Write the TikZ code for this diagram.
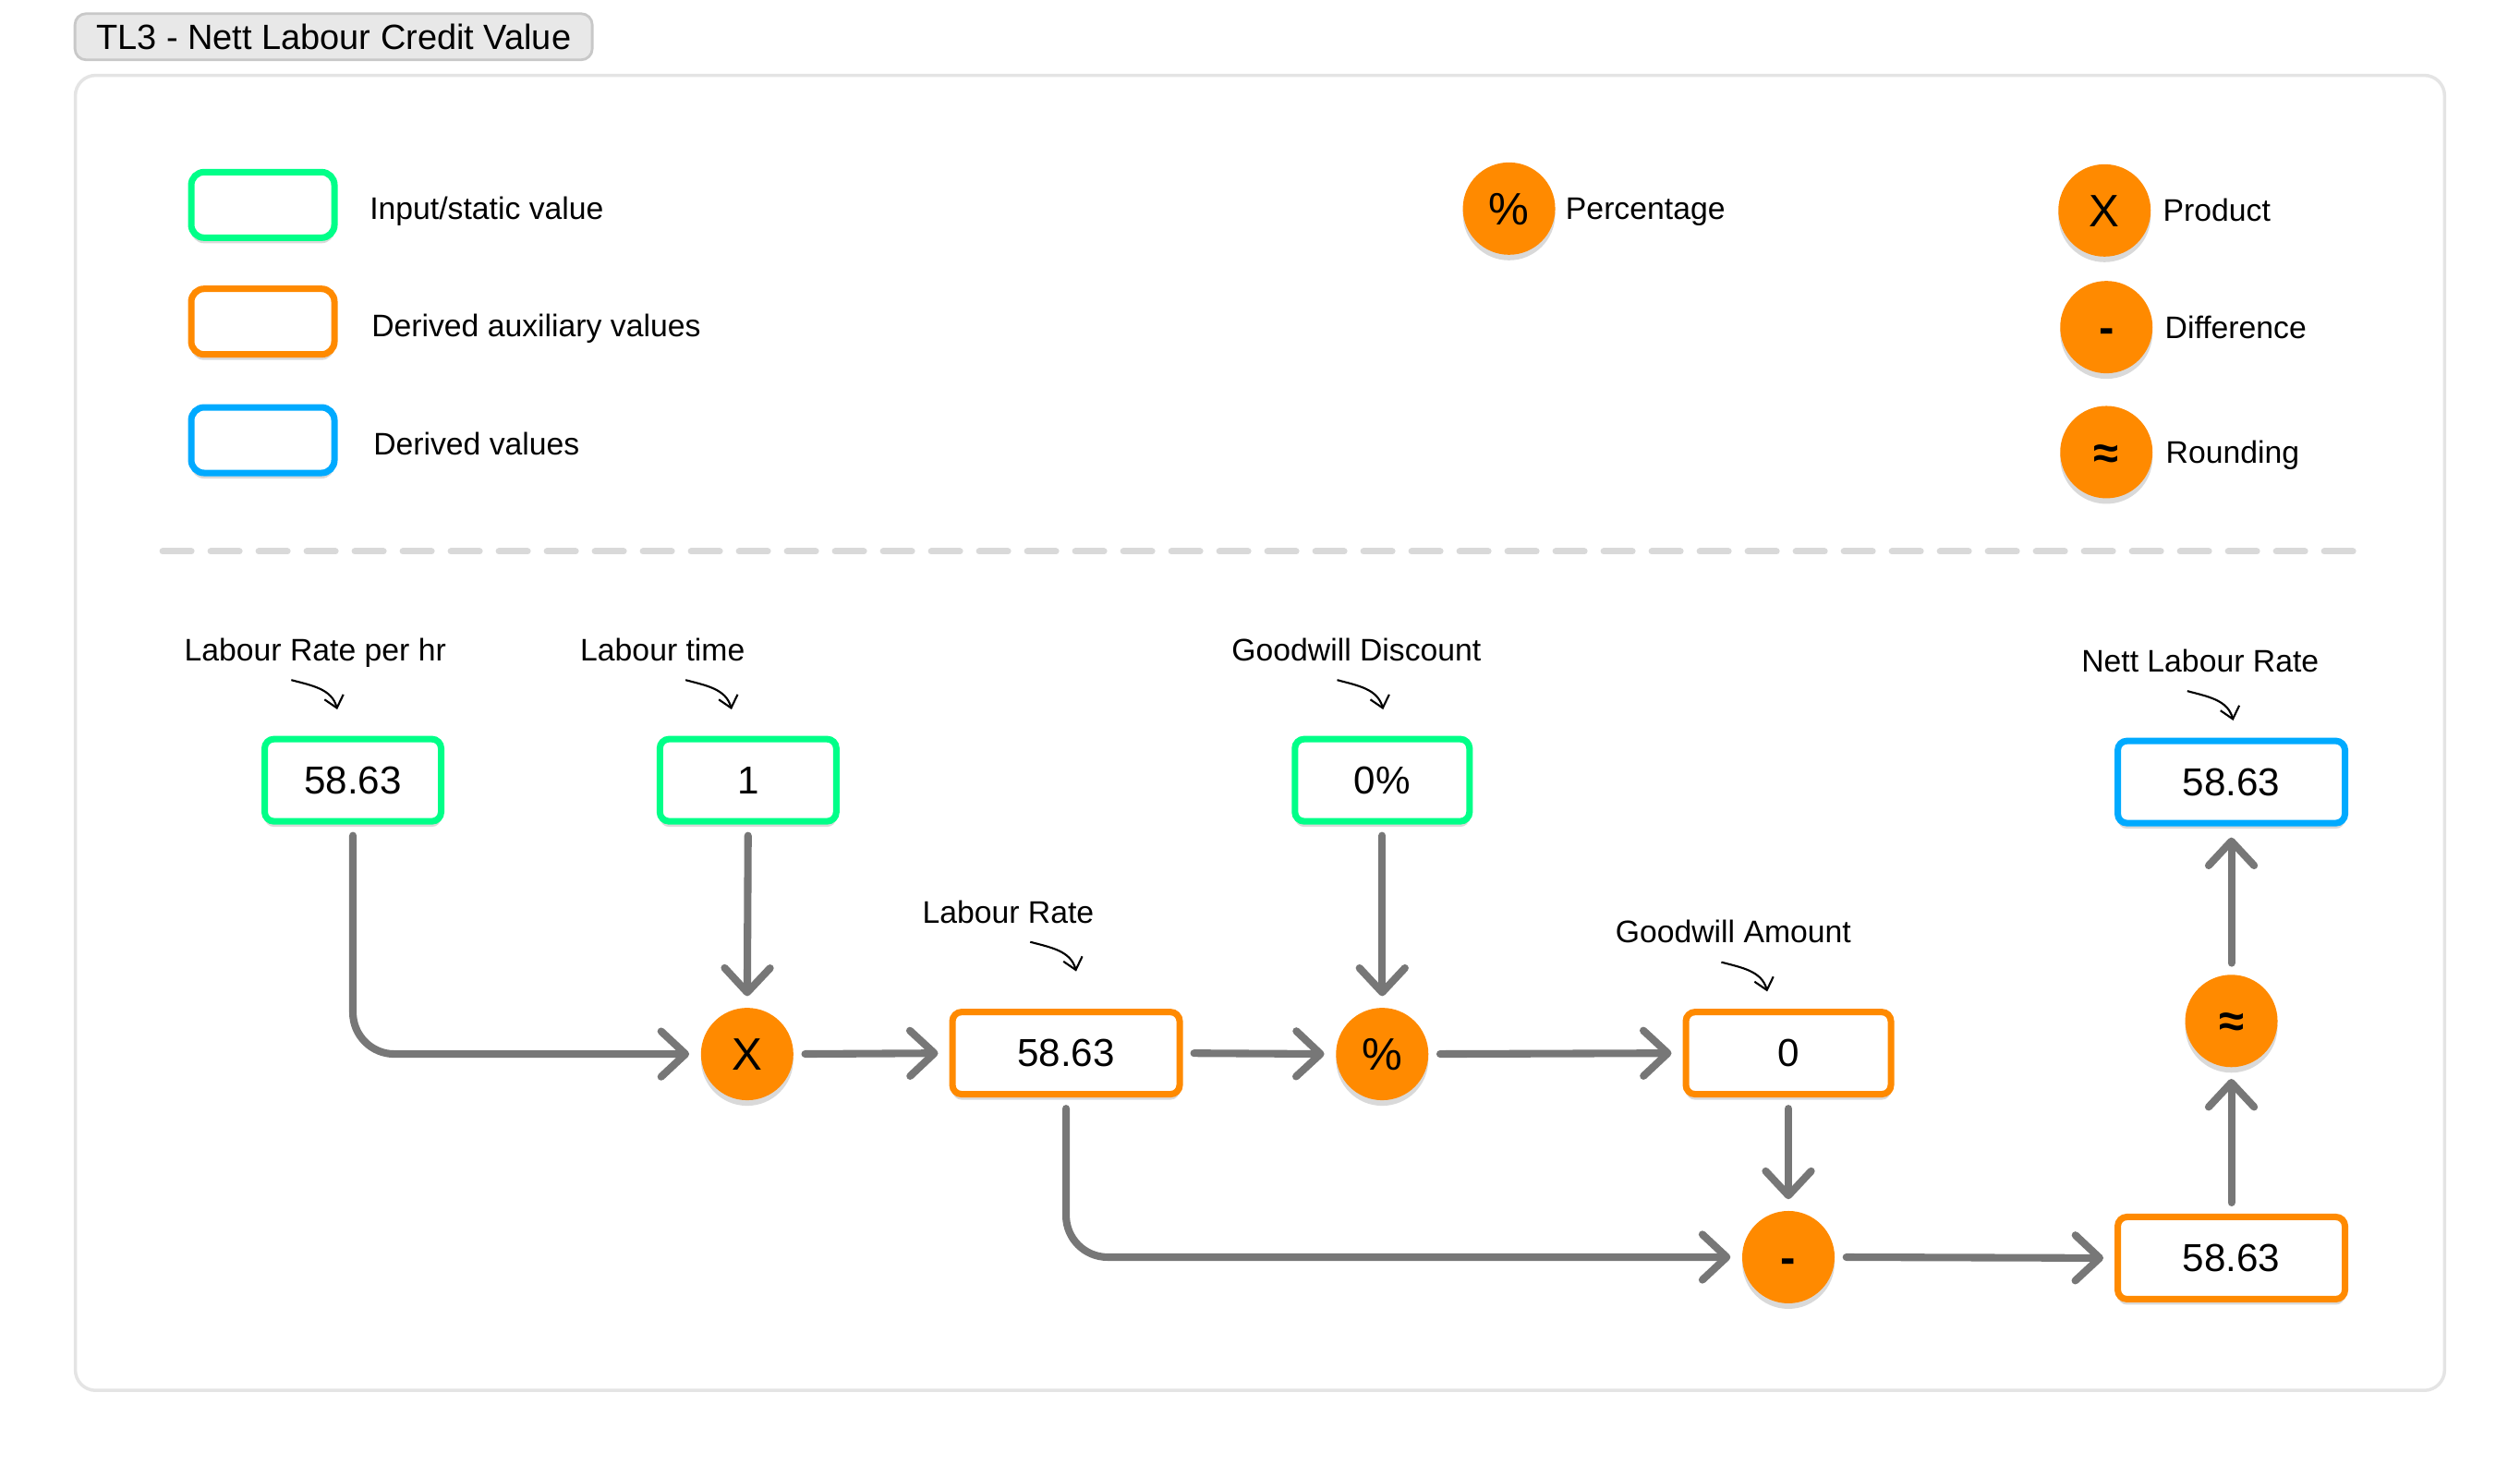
\documentclass[tikz,border=0pt]{standalone}
\usepackage{fontspec}
\setmainfont{Liberation Sans}
\usetikzlibrary{arrows.meta,shadows,positioning}

\definecolor{inputgreen}{HTML}{00FF88}
\definecolor{auxorange}{HTML}{FF8A00}
\definecolor{valueblue}{HTML}{00AAFF}
\definecolor{flowgray}{HTML}{777777}
\definecolor{panelgray}{HTML}{E4E4E4}
\definecolor{titlefill}{HTML}{E8E8E8}
\definecolor{titleline}{HTML}{C8C8C8}
\definecolor{dashgray}{HTML}{D9D9D9}

\tikzset{
	box/.style={draw, line width=2pt, fill=white, rounded corners=0.1cm,
		minimum height=0.89cm, inner sep=0pt, font=\fontsize{12}{14}\selectfont,
		drop shadow={shadow xshift=0cm, shadow yshift=-0.06cm, opacity=0.15, fill=black}},
	legbox/.style={minimum width=1.55cm, minimum height=0.71cm, rounded corners=0.14cm},
	op/.style={circle, fill=auxorange, minimum size=1cm, inner sep=0pt,
		text height=10pt, text depth=0pt, font=\fontsize{14}{16}\selectfont,
		drop shadow={shadow xshift=0cm, shadow yshift=-0.06cm, opacity=0.15, fill=black}},
	legtext/.style={inner sep=0pt, text height=6.9pt, text depth=0pt, font=\fontsize{9.6}{11}\selectfont},
	lbl/.style={inner sep=0pt, text height=6.9pt, text depth=0pt, font=\fontsize{9.6}{11}\selectfont},
	flow/.style={draw=flowgray, line width=2.3pt, line cap=round,
		-{Straight Barb[length=7.5pt, width=14pt, round]},
		shorten <=0.12cm, shorten >=0.12cm},
	pointer/.style={draw=black, line width=0.6pt, -{Straight Barb[length=3.5pt, width=6pt]}}
}

\begin{document}
\begin{tikzpicture}[x=0.009954cm, y=-0.009954cm]
	\useasboundingbox (0,0) rectangle (27.28cm,-15.86cm);

	% header and panel
	\node[fill=titlefill, draw=titleline, line width=0.8pt, rounded corners=0.12cm,
		minimum width=5.6cm, minimum height=0.5cm, inner sep=0pt,
		font=\fontsize{10.8}{13}\selectfont] (title) at (363,40) {TL3 - Nett Labour Credit Value};
	\draw[panelgray, line width=1pt, rounded corners=0.22cm] (82,82) rectangle (2660,1513);

	% legend
	\node[box, legbox, draw=inputgreen] (legIn) at (286,223) {};
	\node[box, legbox, draw=auxorange] (legAux) at (286,350) {};
	\node[box, legbox, draw=valueblue] (legVal) at (286,479) {};
	\node[legtext, right=0.34cm of legIn, yshift=-0.04cm] (legInTxt) {Input/static value};
	\node[legtext, right=0.36cm of legAux, yshift=-0.04cm] (legAuxTxt) {Derived auxiliary values};
	\node[legtext, right=0.38cm of legVal, yshift=-0.04cm] (legValTxt) {Derived values};

	\node[op] (legPct) at (1642,227) {\%};
	\node[legtext, right=0.1cm of legPct] (legPctTxt) {Percentage};
	\node[op] (legProd) at (2290,229) {X};
	\node[legtext, right=0.12cm of legProd] (legProdTxt) {Product};
	\node[op] (legDiff) at (2292,356) {\textbf{-}};
	\node[legtext, right=0.12cm of legDiff] (legDiffTxt) {Difference};
	\node[op] (legRnd) at (2292,492) {\textbf{≈}};
	\node[legtext, right=0.13cm of legRnd] (legRndTxt) {Rounding};

	\draw[dashgray, line width=2pt, line cap=round, dash pattern=on 0.31cm off 0.21cm] (177,600) -- (2565,600);

	% values
	\node[box, draw=inputgreen, minimum width=1.91cm] (rate) at (384,849) {58.63};
	\node[box, draw=inputgreen, minimum width=1.91cm] (time) at (814,849) {1};
	\node[box, draw=inputgreen, minimum width=1.89cm] (disc) at (1504,849) {0\%};
	\node[box, draw=auxorange, minimum width=2.46cm] (lrate) at (1160,1146) {58.63};
	\node[box, draw=auxorange, minimum width=2.22cm] (amount) at (1946,1146) {0};
	\node[box, draw=auxorange, minimum width=2.46cm] (sub) at (2428,1369) {58.63};
	\node[box, draw=valueblue, minimum width=2.46cm] (nett) at (2428,851) {58.63};

	% operations
	\node[op] (prod) at (813,1147) {X};
	\node[op] (pct) at (1504,1147) {\%};
	\node[op] (diff) at (1946,1368) {\textbf{-}};
	\node[op] (rnd) at (2428,1111) {\textbf{≈}};

	% labels
	\node[lbl] (lRate) at (343,707) {Labour Rate per hr};
	\node[lbl] (lTime) at (721,707) {Labour time};
	\node[lbl] (lDisc) at (1476,707) {Goodwill Discount};
	\node[lbl] (lLR) at (1097,992) {Labour Rate};
	\node[lbl] (lAmt) at (1886,1014) {Goodwill Amount};
	\node[lbl] (lNett) at (2394,719) {Nett Labour Rate};

	\foreach \name/\dx in {lRate/-26, lTime/25, lDisc/-21, lLR/24, lAmt/-13, lNett/-14}
		\draw[pointer] ([shift={(\dx,33)}]\name.center) to[out=-15, in=105] ++(50,32);

	% flow
	\draw[flow, rounded corners=0.45cm] (rate.south) |- (prod.west);
	\draw[flow] (time.south) -- (prod.north);
	\draw[flow] (prod.east) -- (lrate.west);
	\draw[flow] (lrate.east) -- (pct.west);
	\draw[flow] (disc.south) -- (pct.north);
	\draw[flow] (pct.east) -- (amount.west);
	\draw[flow] (amount.south) -- (diff.north);
	\draw[flow, rounded corners=0.45cm] (lrate.south) |- (diff.west);
	\draw[flow] (diff.east) -- (sub.west);
	\draw[flow] (sub.north) -- (rnd.south);
	\draw[flow] (rnd.north) -- (nett.south);

\end{tikzpicture}
\end{document}
